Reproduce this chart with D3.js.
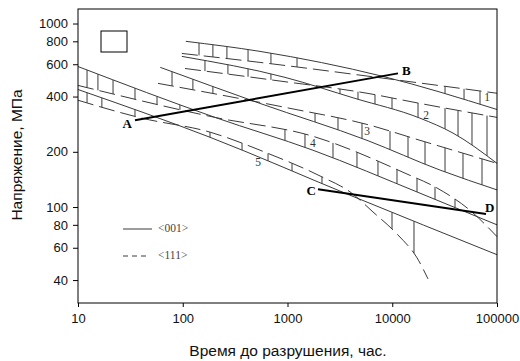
<!DOCTYPE html>
<html><head><meta charset="utf-8">
<script src="https://cdn.jsdelivr.net/npm/d3@7/dist/d3.min.js"></script>
<style>body{margin:0;background:#fff}</style>
</head><body>
<svg id="c" width="520" height="361"></svg>
<script>
// ---- data (hours, MPa) ----
const xTicks = [10, 100, 1000, 10000, 100000];
const yTicks = [40, 60, 80, 100, 200, 400, 600, 800, 1000];

const band1Solid  = [[107,800],[546,705],[8160,515],[100000,340]];
const band1Dashed = [[98,687],[546,614],[11860,490],[100000,417]];
const band1Hatch  = [143,194,264,420,695,1233,31900,48450,68830];

const band2Solid  = [[98,662],[946,509],[4400,391],[18400,305],[38000,253],[100000,173]];
const band2Dashed = [[105,569],[760,490],[5740,417],[18400,367],[100000,308]];
const band2Hatch  = [163,270,420,695,3170,4709,6842,9948,17620,31900,42460,57720,80290];

const band3Solid  = [[61,577],[546,367],[5740,231],[28600,159],[100000,124]];
const band3Dashed = [[58,472],[1057,345],[5740,282],[18400,231],[100000,173]];
const band3Hatch  = [79,125,194,1832,3034,5143,9518,14140,20550,31900,47360,71920];

const band4Solid  = [[10,583],[203,308],[1750,204],[18400,119],[100000,80]];
const band4Dashed = [[10,460],[203,308],[1750,243],[13240,153],[26750,127],[55230,96],[100000,69]];
const band4Hatch  = [12.2,15.5,21.6,35,56.8,94,946,1469,2718,4605,7308,11100,17230,25600,39730];

const band5Solid  = [[10,437],[182,240],[3950,116],[100000,55]];
const band5Dashed = [[10,382],[40.8,305],[182,256],[652,196],[2134,146],[3950,121],[6549,94],[11350,70.4],[17230,52.9],[21950,40.6]];
const band5Hatch  = [12.2,16.9,35,182,368,652,1104,2134,9948,16130];

const bandLabels  = [["1",80300,391],["2",21000,312],["3",5741,256],["4",1750,220],["5",523,173]];
const lineAB = [[35,297],[11350,535]];
const lineCD = [[1955,125],[78530,91.6]];
const legendItems = [["<001>", false], ["<111>", true]];

const bands = [
  {solid: band1Solid, dashed: band1Dashed, hatch: band1Hatch},
  {solid: band2Solid, dashed: band2Dashed, hatch: band2Hatch},
  {solid: band3Solid, dashed: band3Dashed, hatch: band3Hatch},
  {solid: band4Solid, dashed: band4Dashed, hatch: band4Hatch},
  {solid: band5Solid, dashed: band5Dashed, hatch: band5Hatch}
];

// ---- chart ----
const svg = d3.select("#c");
const L = 78, R = 497, T = 9, B = 303;
const x = d3.scaleLog().domain([10, 100000]).range([L, R]);
const y = d3.scaleLog().domain([30, 1200]).range([B, T]);
const lineCol = "#3a3a3a";
const dash = "16,6";

const line = d3.line().x(d => x(d[0])).y(d => y(d[1])).curve(d3.curveMonotoneX);

const g = svg.append("g");

function yOnPath(node, px) {
  let lo = 0, hi = node.getTotalLength();
  for (let i = 0; i < 40; i++) {
    const mid = (lo + hi) / 2;
    if (node.getPointAtLength(mid).x < px) lo = mid; else hi = mid;
  }
  return node.getPointAtLength((lo + hi) / 2).y;
}

bands.forEach(b => {
  const ps = g.append("path").attr("d", line(b.solid))
    .attr("fill", "none").attr("stroke", lineCol).attr("stroke-width", 1);
  const pd = g.append("path").attr("d", line(b.dashed))
    .attr("fill", "none").attr("stroke", lineCol).attr("stroke-width", 1)
    .attr("stroke-dasharray", dash);
  b.hatch.forEach(h => {
    const px = x(h);
    const y1 = yOnPath(ps.node(), px), y2 = yOnPath(pd.node(), px);
    g.append("line").attr("x1", px).attr("x2", px).attr("y1", y1).attr("y2", y2)
      .attr("stroke", lineCol).attr("stroke-width", 1);
  });
});

bandLabels.forEach(d => {
  g.append("text").attr("x", x(d[1])).attr("y", y(d[2]))
    .attr("text-anchor", "middle").attr("dominant-baseline", "middle")
    .attr("font-family", "Liberation Serif, Times New Roman, serif")
    .attr("font-size", 11.5).attr("fill", "#333").text(d[0]);
});

// A-B, C-D
[lineAB, lineCD].forEach(pts => {
  g.append("line").attr("x1", x(pts[0][0])).attr("y1", y(pts[0][1]))
    .attr("x2", x(pts[1][0])).attr("y2", y(pts[1][1]))
    .attr("stroke", "#000").attr("stroke-width", 2);
});
const bold = sel => sel.attr("font-family", "Liberation Serif, Times New Roman, serif")
  .attr("font-weight", "bold").attr("font-size", 13).attr("fill", "#000");
bold(g.append("text").attr("x", x(lineAB[0][0]) - 3).attr("y", y(lineAB[0][1]) + 8).attr("text-anchor", "end").text("A"));
bold(g.append("text").attr("x", x(lineAB[1][0]) + 4).attr("y", y(lineAB[1][1]) + 2).attr("text-anchor", "start").text("B"));
bold(g.append("text").attr("x", x(lineCD[0][0]) - 2).attr("y", y(lineCD[0][1]) + 6).attr("text-anchor", "end").text("C"));
bold(g.append("text").attr("x", x(lineCD[1][0]) - 1).attr("y", y(lineCD[1][1]) - 2).attr("text-anchor", "start").text("D"));

// legend
legendItems.forEach((d, i) => {
  const ly = 229 + i * 27;
  g.append("line").attr("x1", 123).attr("x2", d[1] ? 147 : 152).attr("y1", ly).attr("y2", ly)
    .attr("stroke", lineCol).attr("stroke-width", 1)
    .attr("stroke-dasharray", d[1] ? "5,4" : null);
  g.append("text").attr("x", 158).attr("y", ly).attr("dominant-baseline", "middle")
    .attr("font-family", "Liberation Serif, Times New Roman, serif")
    .attr("font-size", 11.5).attr("fill", "#444").text(d[0]);
});
// empty box
g.append("rect").attr("x", 101).attr("y", 31).attr("width", 26).attr("height", 21)
  .attr("fill", "none").attr("stroke", "#000").attr("stroke-width", 1);

// frame
svg.append("rect").attr("x", L).attr("y", T).attr("width", R - L).attr("height", B - T)
  .attr("fill", "none").attr("stroke", "#000").attr("stroke-width", 1);

// axes
const fmt = d => String(d);
const xa = svg.append("g").attr("transform", `translate(0,${B})`)
  .call(d3.axisBottom(x).tickValues(xTicks).tickFormat(fmt).tickSize(4).tickPadding(7));
const ya = svg.append("g").attr("transform", `translate(${L},0)`)
  .call(d3.axisLeft(y).tickValues(yTicks).tickFormat(fmt).tickSize(5).tickPadding(5));
[xa, ya].forEach(a => {
  a.select(".domain").remove();
  a.selectAll("text").attr("font-family", "Liberation Sans, Arial, sans-serif")
    .attr("font-size", 13).attr("fill", "#111");
  a.selectAll("line").attr("stroke", "#000");
});

svg.append("text").attr("x", 288).attr("y", 356).attr("text-anchor", "middle")
  .attr("font-family", "Liberation Sans, Arial, sans-serif").attr("font-size", 15.5)
  .attr("fill", "#111").text("Время до разрушения, час.");
svg.append("text").attr("transform", "translate(22,155) rotate(-90)").attr("text-anchor", "middle")
  .attr("font-family", "Liberation Sans, Arial, sans-serif").attr("font-size", 15.5)
  .attr("fill", "#111").text("Напряжение, МПа");
</script>
</body></html>
